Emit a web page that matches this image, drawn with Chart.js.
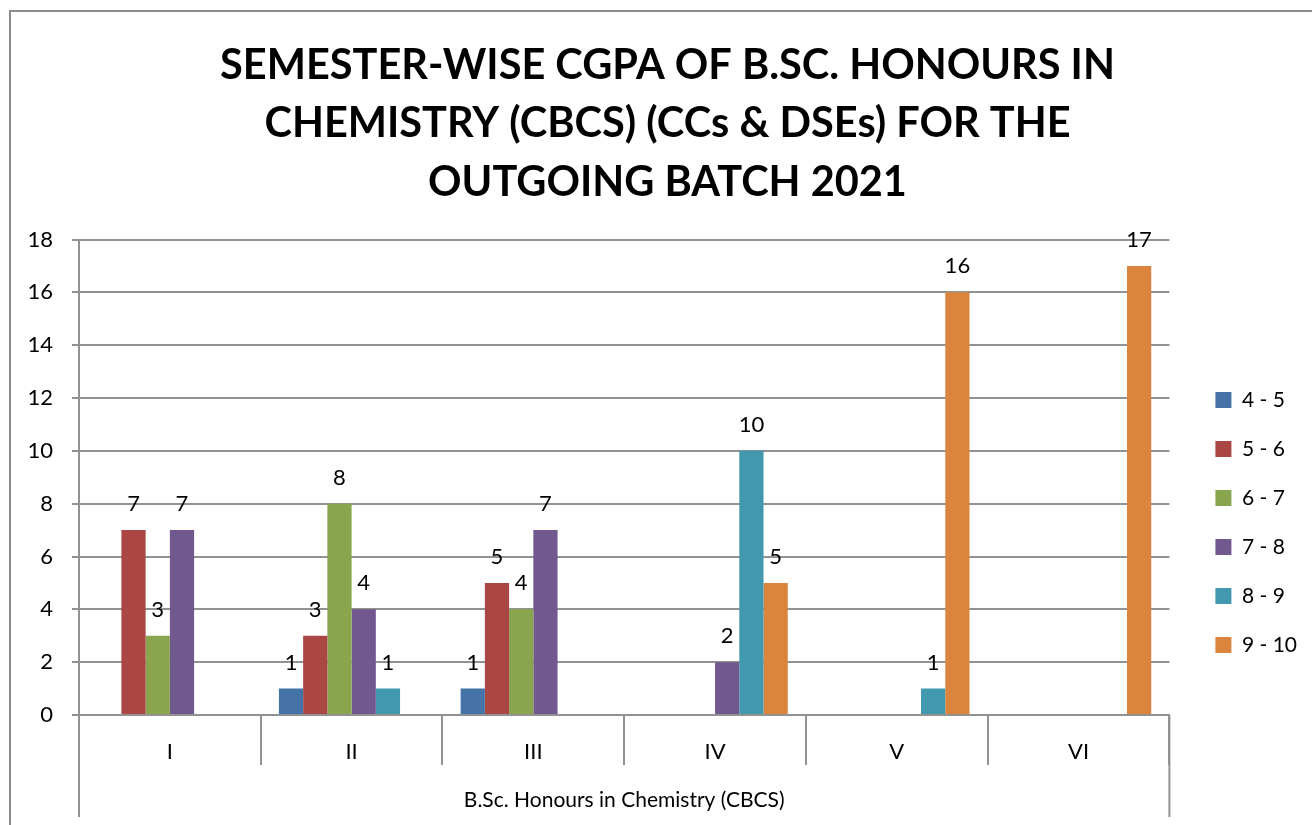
<!DOCTYPE html>
<html>
<head>
<meta charset="utf-8">
<script src="https://cdn.jsdelivr.net/npm/chart.js@4.4.1/dist/chart.umd.min.js"></script>
<style>
  html, body { margin: 0; padding: 0; background: #fff; overflow: hidden; }
  #wrap { width: 1312px; height: 825px; }
</style>
</head>
<body>
<div id="wrap"><canvas id="gpaChart" width="1312" height="825"></canvas></div>
<script>
const semesters = ['I', 'II', 'III', 'IV', 'V', 'VI'];
const bands = ['4 - 5', '5 - 6', '6 - 7', '7 - 8', '8 - 9', '9 - 10'];

// students per CGPA band, one entry per semester
const band4to5 = [0, 1, 1, 0, 0, 0];
const band5to6 = [7, 3, 5, 0, 0, 0];
const band6to7 = [3, 8, 4, 0, 0, 0];
const band7to8 = [7, 4, 7, 2, 0, 0];
const band8to9 = [0, 1, 0, 10, 1, 0];
const band9to10 = [0, 0, 0, 5, 16, 17];

const bandColors = ['#4572A7', '#AA4643', '#89A54E', '#71588F', '#4198AF', '#DB843D'];
const gridGray = '#929292';

Chart.defaults.font.family = 'Lato';
Chart.defaults.color = '#000';

// numbers above each non-zero bar
const valueLabels = {
  id: 'valueLabels',
  afterDatasetsDraw(chart) {
    const ctx = chart.ctx;
    ctx.save();
    ctx.font = '22px Lato';
    ctx.fillStyle = '#000';
    ctx.textAlign = 'center';
    ctx.textBaseline = 'middle';
    chart.data.datasets.forEach((ds, i) => {
      chart.getDatasetMeta(i).data.forEach((bar, j) => {
        const v = ds.data[j];
        if (!v) return;
        ctx.fillText(String(v), bar.x, bar.y - 26);
      });
    });
    ctx.restore();
  }
};

// outer box and the long end separators of the category axis
const frame = {
  id: 'frame',
  afterLayout(chart) {
    // legend sits a bit further from the plot and lower down
    chart.legend.left += 18;
    chart.legend.right += 18;
    chart.legend.top += 110;
    chart.legend.bottom += 110;
    // centre the title on the outer box
    chart.titleBlock.left += 15;
    chart.titleBlock.right += 15;
  },
  beforeDraw(chart) {
    const ctx = chart.ctx;
    ctx.save();
    ctx.strokeStyle = '#8c8c8c';
    ctx.lineWidth = 2;
    ctx.strokeRect(10, 11, 1400, 1000);
    ctx.restore();
  },
  afterDraw(chart) {
    const ctx = chart.ctx;
    const {left, right, bottom} = chart.chartArea;
    ctx.save();
    ctx.strokeStyle = gridGray;
    ctx.lineWidth = 2;
    ctx.beginPath();
    ctx.moveTo(left, bottom);
    ctx.lineTo(left, 817);
    ctx.moveTo(right, bottom);
    ctx.lineTo(right, 817);
    ctx.stroke();
    ctx.restore();
  }
};

const seriesData = [band4to5, band5to6, band6to7, band7to8, band8to9, band9to10];

new Chart(document.getElementById('gpaChart'), {
  type: 'bar',
  data: {
    labels: semesters,
    datasets: bands.map((name, i) => ({
      label: name,
      data: seriesData[i],
      backgroundColor: bandColors[i],
      borderWidth: 0,
      categoryPercentage: 0.8,
      barPercentage: 1.0
    }))
  },
  options: {
    responsive: false,
    animation: false,
    layout: { padding: { left: 16, right: 23, top: 0, bottom: 0 } },
    plugins: {
      title: {
        display: true,
        text: ['SEMESTER-WISE CGPA OF B.SC. HONOURS IN',
               'CHEMISTRY (CBCS) (CCs & DSEs) FOR THE',
               'OUTGOING BATCH 2021'],
        font: { size: 41.5, weight: 'bold', lineHeight: 1.41 },
        color: '#000',
        padding: { top: 36, bottom: 28 }
      },
      legend: {
        position: 'right',
        labels: {
          boxWidth: 16,
          boxHeight: 16,
          padding: 28,
          font: { size: 21 },
          color: '#000'
        }
      },
      tooltip: { enabled: false }
    },
    scales: {
      x: {
        grid: {
          drawOnChartArea: false,
          tickLength: 50,
          color: gridGray,
          lineWidth: 2
        },
        border: { color: gridGray, width: 2 },
        ticks: { font: { size: 22 }, color: '#000', padding: -26 },
        title: {
          display: true,
          text: 'B.Sc. Honours in Chemistry (CBCS)',
          font: { size: 21 },
          color: '#000',
          padding: { top: 0, bottom: 12 }
        },
        afterFit(scale) { scale.height = 110; }
      },
      y: {
        min: 0,
        max: 18,
        ticks: { stepSize: 2, font: { size: 22 }, color: '#000', padding: 19 },
        grid: { color: gridGray, lineWidth: 2, tickLength: 7 },
        border: { color: gridGray, width: 2 },
        afterFit(scale) { scale.width = 63; }
      }
    }
  },
  plugins: [valueLabels, frame]
});
</script>
</body>
</html>
